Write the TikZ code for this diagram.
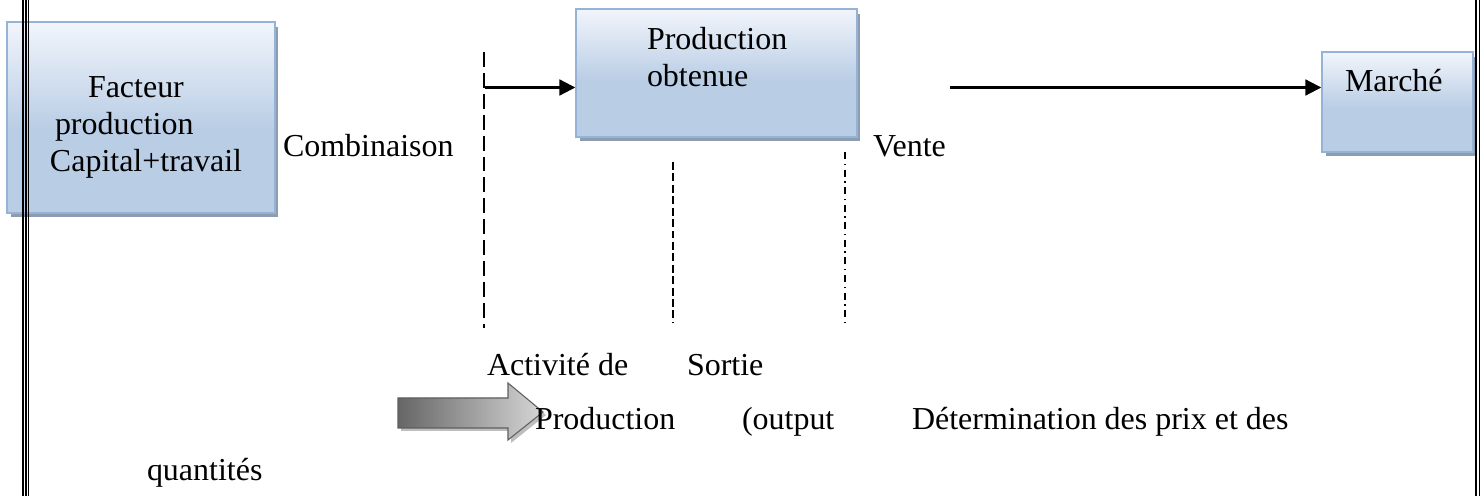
\documentclass[tikz,border=0pt]{standalone}
\usepackage{fontspec}
\setmainfont{Liberation Serif}
\usetikzlibrary{arrows.meta,shadows}

\definecolor{boxtop}{HTML}{F2F5FB}
\definecolor{boxblue}{HTML}{B9CDE5}
\definecolor{boxline}{HTML}{95B3D7}
\definecolor{boxshadow}{HTML}{8E9CB0}
\definecolor{arrowdark}{HTML}{666666}
\definecolor{arrowlight}{HTML}{D6D6D6}
\definecolor{arrowline}{HTML}{5E5E5E}
\definecolor{arrowshadow}{HTML}{BEBEBE}

% light at the top, plain blue over the lower half
\pgfdeclareverticalshading{boxshade}{100bp}{%
  color(0bp)=(boxblue); color(25bp)=(boxblue); color(47bp)=(boxblue);
  color(75bp)=(boxtop); color(100bp)=(boxtop)}

\tikzset{
  bluebox/.style={rectangle, inner sep=0pt, draw=boxline, line width=0.85pt,
    shading=boxshade,
    drop shadow={shadow xshift=0.07cm, shadow yshift=-0.09cm,
                 fill=boxshadow, opacity=1}},
  txt/.style={anchor=base west, inner sep=0pt, outer sep=0pt},
  flow/.style={line width=1.2pt, -{Triangle[length=9pt, width=9pt]}},
  longdash/.style={line width=0.85pt, dash pattern=on 8.5pt off 3.4pt},
  shortdash/.style={line width=0.85pt, dash pattern=on 4.5pt off 2pt},
  dashdot/.style={line width=0.85pt,
    dash pattern=on 4pt off 2.6pt on 0.8pt off 2.6pt},
  frame/.style={line width=1.1pt}
}

\begin{document}
\begin{tikzpicture}[x=0.02cm, y=-0.02cm, font=\fontsize{18.2pt}{22pt}\selectfont]
\useasboundingbox (0,0) rectangle (1481,496);

% boxes
\node[bluebox, minimum width=5.36cm, minimum height=3.82cm] (facteur) at (141,117.5) {};
\node[bluebox, minimum width=5.62cm, minimum height=2.56cm] (prod) at (716.5,73) {};
\node[bluebox, minimum width=3.02cm, minimum height=2.00cm] (marche) at (1397.5,102) {};

% box texts
\node[txt] (f1) at (88,98)  {Facteur};
\node[txt] (f2) at (55,135) {production};
\node[txt] (f3) at (50,172) {Capital+travail};
\node[txt] (p1) at (647,50) {Production};
\node[txt] (p2) at (647,87) {obtenue};
\node[txt] (m1) at (1345,92) {Marché};

% page frame
\draw[frame] (23,0) -- (23,496);
\draw[line width=0.7pt] (26,0) -- (26,496);
\draw[frame] (28.5,0) -- (28.5,496);
\draw[frame] (1476,0) -- (1476,496);
\draw[frame] (1479.5,0) -- (1479.5,496);

% stage separators
\coordinate (d1top) at (484,52);
\coordinate (d1bot) at (484,328);
\coordinate (d2top) at (673,162);
\coordinate (d2bot) at (673,323);
\coordinate (d3top) at (845,152);
\coordinate (d3bot) at (845,322);
\draw[longdash] (d1top) -- (d1bot);
\draw[shortdash] (d2top) -- (d2bot);
\draw[dashdot] (d3top) -- (d3bot);

% flow arrows
\coordinate (a1) at (485,87.5);
\coordinate (a2) at (950,87.5);
\draw[flow] (a1) -- (a1 -| prod.west);
\draw[flow] (a2) -- (a2 -| marche.west);

% labels
\node[txt] (comb) at (283,157) {Combinaison};
\node[txt] (vente) at (873,157) {Vente};
\node[txt] (act) at (487,376) {Activité de};
\node[txt] (sortie) at (687,376) {Sortie};

% grey block arrow
\fill[arrowshadow] (401,401) -- (511,401) -- (511,386) -- (546,415) -- (511,443) -- (511,431) -- (401,431) -- cycle;
\shade[left color=arrowdark, right color=arrowlight, draw=arrowline, line width=0.6pt]
  (398,398) -- (508,398) -- (508,383) -- (543,412) -- (508,440) -- (508,428) -- (398,428) -- cycle;

\node[txt] (prodb) at (535,430) {Production};
\node[txt] (outp) at (742,430) {(output};
\node[txt] (determ) at (912,430) {Détermination des prix et des};
\node[txt] (quant) at (147,480) {quantités};
\end{tikzpicture}
\end{document}
